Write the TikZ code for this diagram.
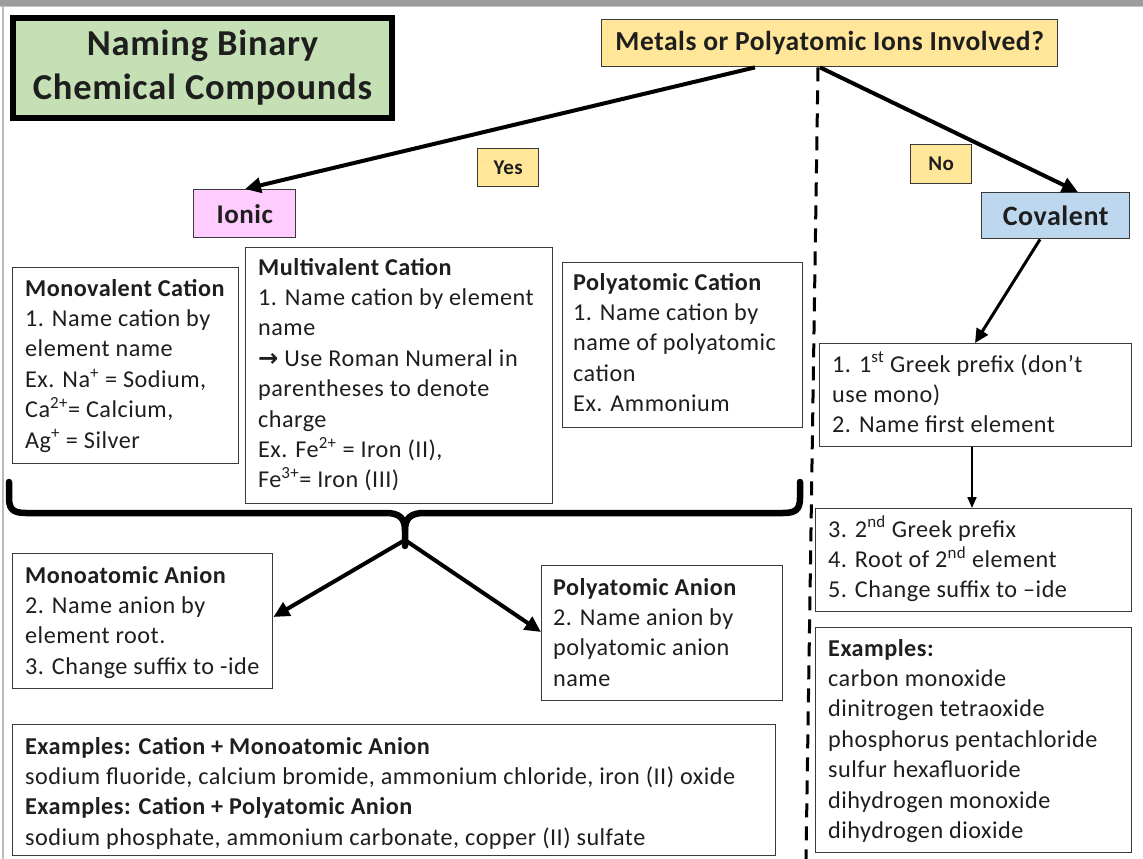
\documentclass[tikz,border=0pt]{standalone}
\usepackage{fontspec}
\setmainfont{Carlito}[LetterSpace=2]
\newfontfamily\dvfont{DejaVu Sans}
\usetikzlibrary{arrows.meta,calc}
\definecolor{titlegreen}{HTML}{C5E0B4}
\definecolor{qyellow}{HTML}{FFE699}
\definecolor{ionpink}{HTML}{FFCCFF}
\definecolor{covblue}{HTML}{BDD7EE}
\definecolor{boxline}{HTML}{3A3A3A}
\definecolor{textc}{HTML}{1E1E1E}
\definecolor{framegray}{HTML}{9C9C9C}
\newcommand\lns[1]{\begin{tabular}[t]{@{}l@{}}#1\end{tabular}}
\begin{document}
\begin{tikzpicture}[x=1pt,y=-1pt,
  box/.style={draw=boxline, line width=1.4pt, fill=white, inner sep=0pt, anchor=north west},
  hbox/.style={box, font=\bfseries\fontsize{27.5}{30}\selectfont, text=textc},
  txt/.style={anchor=base west, inner sep=0pt, font=\fontsize{24.2}{30.4}\selectfont, text=textc},
  bigarrow/.style={line width=4pt, -{Triangle[length=16pt,width=15pt]}},
  smallarrow/.style={line width=2pt, -{Triangle[length=11pt,width=9pt]}},
  bracestyle/.style={line width=6.5pt, line cap=round, line join=round}]
\useasboundingbox (0,0) rectangle (1143,859);
\fill[white] (0,0) rectangle (1143,859);
\fill[framegray] (0,0) rectangle (1143,6);
\fill[framegray!60] (0,6) rectangle (1143,7.5);
\fill[framegray!70] (1.5,6) rectangle (3.5,859);

% title
\node[draw=black, line width=6pt, fill=titlegreen, inner sep=0pt, anchor=north west,
      minimum width=379pt, minimum height=100pt, align=center, text=textc,
      font=\bfseries\fontsize{36.5}{44}\selectfont] (title) at (10,15)
      {Naming Binary\\Chemical Compounds};

% top question and categories
\node[hbox, fill=qyellow, minimum width=456pt, minimum height=47pt] (metals) at (601,19)
      {Metals or Polyatomic Ions Involved?};
\node[box, fill=qyellow, minimum width=61pt, minimum height=38pt, text=textc,
      font=\bfseries\fontsize{21}{24}\selectfont] (yes) at (477,148) {Yes};
\node[box, fill=qyellow, minimum width=61pt, minimum height=39pt, text=textc,
      font=\bfseries\fontsize{21}{24}\selectfont] (no) at (910,144) {No};
\node[box, fill=ionpink, minimum width=102pt, minimum height=48pt, text=textc,
      font=\bfseries\fontsize{27}{30}\selectfont] (ionic) at (193,189) {Ionic};
\node[box, fill=covblue, minimum width=148pt, minimum height=46pt, text=textc,
      font=\bfseries\fontsize{28}{30}\selectfont] (covalent) at (981,192) {Covalent};

% dashed divider
\coordinate (dashend) at (806,859);
\draw[line width=3pt, dash pattern=on 14pt off 9pt] ($(metals.south west)+(217,0)$) -- (dashend);

% ionic boxes
\node[box, minimum width=226pt, minimum height=196pt] (monov) at (12,267) {};
\node[txt] (monovT) at (25,296) {\lns{\textbf{Monovalent Cation}\\
  1. Name cation by\\ element name\\
  Ex. Na\textsuperscript{+} = Sodium,\\ Ca\textsuperscript{2+}= Calcium,\\ Ag\textsuperscript{+} = Silver}};

\node[box, minimum width=307pt, minimum height=256pt] (multiv) at (245,247) {};
\node[txt] (multivT) at (258,275) {\lns{\textbf{Multivalent Cation}\\
  1. Name cation by element\\ name\\
  {\dvfont\bfseries →} Use Roman Numeral in\\ parentheses to denote\\ charge\\
  Ex. Fe\textsuperscript{2+} = Iron (II),\\ Fe\textsuperscript{3+}= Iron (III)}};

\node[box, minimum width=240pt, minimum height=165pt] (polycat) at (562,262) {};
\node[txt] (polycatT) at (573,290) {\lns{\textbf{Polyatomic Cation}\\
  1. Name cation by\\ name of polyatomic\\ cation\\ Ex. Ammonium}};

% brace
\draw[bracestyle] (9,482) -- (9,498) .. controls (9,510) and (14,513) .. (26,513)
   -- (386,513) .. controls (399,513) and (405,518) .. (405,530) -- (405,546);
\draw[bracestyle] (800,482) -- (800,498) .. controls (800,510) and (795,513) .. (783,513)
   -- (424,513) .. controls (411,513) and (405,518) .. (405,530);
\coordinate (bracetip) at (405,540);

% anion boxes
\node[box, minimum width=260pt, minimum height=135pt] (monoan) at (12,553) {};
\node[txt] (monoanT) at (25,583) {\lns{\textbf{Monoatomic Anion}\\
  2. Name anion by\\ element root.\\ 3. Change suffix to -ide}};

\node[box, minimum width=241pt, minimum height=135pt] (polyan) at (541,565) {};
\node[txt] (polyanT) at (553,595) {\lns{\textbf{Polyatomic Anion}\\
  2. Name anion by\\ polyatomic anion\\ name}};

\node[box, minimum width=763pt, minimum height=131pt] (exbot) at (12,724) {};
\node[txt] (exbotT) at (25,754) {\lns{\textbf{Examples: Cation + Monoatomic Anion}\\
  sodium fluoride, calcium bromide, ammonium chloride, iron (II) oxide\\
  \textbf{Examples: Cation + Polyatomic Anion}\\
  sodium phosphate, ammonium carbonate, copper (II) sulfate}};

% covalent boxes
\node[box, minimum width=312pt, minimum height=103pt] (cov1) at (819,343) {};
\node[txt] (cov1T) at (832,372) {\lns{1. 1\textsuperscript{st} Greek prefix (don’t\\
  use mono)\\ 2. Name first element}};

\node[box, minimum width=316pt, minimum height=103pt] (cov2) at (815,508) {};
\node[txt] (cov2T) at (828,537) {\lns{3. 2\textsuperscript{nd} Greek prefix\\
  4. Root of 2\textsuperscript{nd} element\\ 5. Change suffix to –ide}};

\node[box, minimum width=316pt, minimum height=225pt] (exr) at (815,627) {};
\node[txt] (exrT) at (828,656) {\lns{\textbf{Examples:}\\ carbon monoxide\\ dinitrogen tetraoxide\\
  phosphorus pentachloride\\ sulfur hexafluoride\\ dihydrogen monoxide\\ dihydrogen dioxide}};

% connectors
\draw[bigarrow] ($(metals.south west)+(154,0)$) -- ($(ionic.north west)+(52,0)$);
\draw[bigarrow] ($(metals.south west)+(219,0)$) -- ($(covalent.north west)+(97,0)$);
\draw[line width=3pt, -{Triangle[length=14pt,width=13pt]}] ($(covalent.south west)+(59,0)$) -- ($(cov1.north west)+(156,0)$);
\draw[smallarrow] ($(cov1.south west)+(153,0)$) -- ($(cov2.north west)+(157,0)$);
\draw[bigarrow] (bracetip) -- ($(monoan.north east)+(0,64)$);
\draw[bigarrow] (bracetip) -- ($(polyan.north west)+(0,67)$);
\end{tikzpicture}
\end{document}
